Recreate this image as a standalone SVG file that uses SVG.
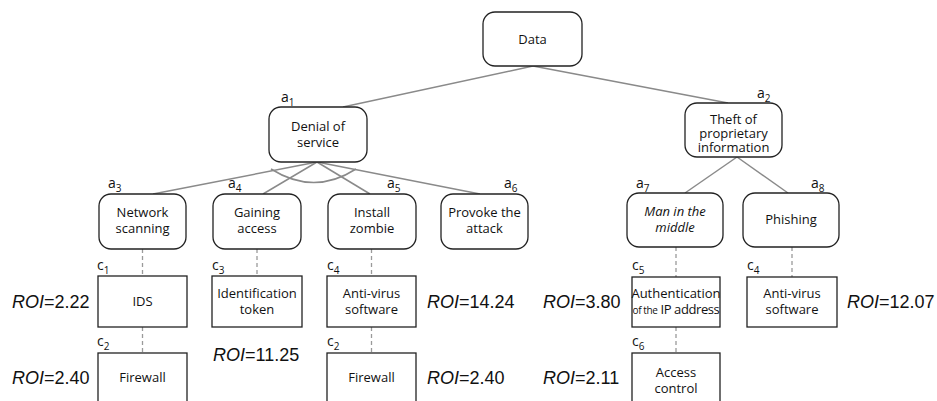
<svg xmlns="http://www.w3.org/2000/svg" width="937" height="401" viewBox="0 0 937 401">
  <style>
    .goal { fill: #fff; stroke: #222; stroke-width: 1.3; }
    .ctrl { fill: #fff; stroke: #222; stroke-width: 1.3; }
    .edge { stroke: #8a8a8a; stroke-width: 1.5; fill: none; }
    .dash { stroke: #9a9a9a; stroke-width: 1.3; stroke-dasharray: 4 3; fill: none; }
    .t { font-family: "Open Sans", "Noto Sans", sans-serif; font-size: 13px; fill: #111; text-anchor: middle; }
    .lbl { font-family: "Open Sans", "Noto Sans", sans-serif; font-size: 14px; fill: #111; }
    .sub { font-size: 10px; }
    .roi { font-family: "Liberation Sans", Arial, sans-serif; font-size: 18px; fill: #111; }
  </style>

  <!-- connectors -->
  <g id="connectors">
    <line class="edge" x1="533" y1="66" x2="343" y2="107"/>
    <line class="edge" x1="533" y1="66" x2="728" y2="103"/>
    <line class="edge" x1="317" y1="162" x2="153" y2="194"/>
    <line class="edge" x1="317" y1="162" x2="263" y2="194"/>
    <line class="edge" x1="317" y1="162" x2="370" y2="194"/>
    <line class="edge" x1="317" y1="162" x2="480" y2="194"/>
    <!-- AND arc joining the children of Denial of service -->
    <path class="edge" d="M 271 169 Q 314 196 356 169"/>
    <line class="edge" x1="737" y1="157" x2="685" y2="193"/>
    <line class="edge" x1="737" y1="157" x2="788" y2="193"/>
    <line class="dash" x1="142.5" y1="249" x2="142.5" y2="276"/>
    <line class="dash" x1="142.5" y1="327" x2="142.5" y2="353"/>
    <line class="dash" x1="257" y1="249" x2="257" y2="276"/>
    <line class="dash" x1="371.5" y1="249" x2="371.5" y2="276"/>
    <line class="dash" x1="371.5" y1="327" x2="371.5" y2="353"/>
    <line class="dash" x1="676" y1="247" x2="676" y2="277"/>
    <line class="dash" x1="676" y1="327" x2="676" y2="353"/>
    <line class="dash" x1="792" y1="247" x2="792" y2="277"/>
  </g>

  <!-- attack tree goals -->
  <g id="data">
    <rect class="goal" x="483" y="12" width="99" height="54" rx="12"/>
    <text class="t" x="532.5" y="44" font-size="13.5">Data</text>
  </g>

  <g id="a1">
    <rect class="goal" x="269" y="107" width="98" height="55" rx="12"/>
    <text class="t" x="318" y="131">Denial of</text>
    <text class="t" x="318" y="147">service</text>
    <text class="lbl" x="281" y="102">a<tspan class="sub" dy="4">1</tspan></text>
  </g>

  <g id="a2">
    <rect class="goal" x="685" y="103" width="97" height="54" rx="12"/>
    <text class="t" x="733.5" y="124" font-size="12.5">Theft of</text>
    <text class="t" x="733.5" y="138" font-size="12.5">proprietary</text>
    <text class="t" x="733.5" y="152" font-size="12.5">information</text>
    <text class="lbl" x="757" y="98">a<tspan class="sub" dy="4">2</tspan></text>
  </g>

  <g id="a3">
    <rect class="goal" x="99" y="194" width="87" height="55" rx="12"/>
    <text class="t" x="142.5" y="217">Network</text>
    <text class="t" x="142.5" y="233">scanning</text>
    <text class="lbl" x="108" y="188">a<tspan class="sub" dy="4">3</tspan></text>
  </g>

  <g id="a4">
    <rect class="goal" x="213" y="194" width="88" height="55" rx="12"/>
    <text class="t" x="257" y="217">Gaining</text>
    <text class="t" x="257" y="233">access</text>
    <text class="lbl" x="228" y="188">a<tspan class="sub" dy="4">4</tspan></text>
  </g>

  <g id="a5">
    <rect class="goal" x="328" y="194" width="88" height="55" rx="12"/>
    <text class="t" x="372" y="217">Install</text>
    <text class="t" x="372" y="233">zombie</text>
    <text class="lbl" x="387" y="188">a<tspan class="sub" dy="4">5</tspan></text>
  </g>

  <g id="a6">
    <rect class="goal" x="441" y="194" width="87" height="55" rx="12"/>
    <text class="t" x="484.5" y="217">Provoke the</text>
    <text class="t" x="484.5" y="233">attack</text>
    <text class="lbl" x="504" y="188">a<tspan class="sub" dy="4">6</tspan></text>
  </g>

  <g id="a7">
    <rect class="goal" x="627" y="193" width="96" height="54" rx="12"/>
    <text class="t" x="675" y="216" font-style="italic">Man in the</text>
    <text class="t" x="675" y="232" font-style="italic">middle</text>
    <text class="lbl" x="636" y="188">a<tspan class="sub" dy="4">7</tspan></text>
  </g>

  <g id="a8">
    <rect class="goal" x="743" y="193" width="96" height="54" rx="12"/>
    <text class="t" x="791" y="224">Phishing</text>
    <text class="lbl" x="811" y="188">a<tspan class="sub" dy="4">8</tspan></text>
  </g>

  <!-- countermeasures -->
  <g id="c1-ids">
    <rect class="ctrl" x="98" y="276" width="89" height="51"/>
    <text class="t" x="142.5" y="306">IDS</text>
    <text class="lbl" x="97" y="270">c<tspan class="sub" dy="4">1</tspan></text>
    <text class="roi" x="12" y="308"><tspan font-style="italic">ROI</tspan>=2.22</text>
  </g>

  <g id="c2-firewall-a3">
    <rect class="ctrl" x="98" y="353" width="89" height="60"/>
    <text class="t" x="142.5" y="382">Firewall</text>
    <text class="lbl" x="97" y="346">c<tspan class="sub" dy="4">2</tspan></text>
    <text class="roi" x="12" y="384"><tspan font-style="italic">ROI</tspan>=2.40</text>
  </g>

  <g id="c3-token">
    <rect class="ctrl" x="212" y="276" width="90" height="51"/>
    <text class="t" x="257" y="298">Identification</text>
    <text class="t" x="257" y="314">token</text>
    <text class="lbl" x="212" y="270">c<tspan class="sub" dy="4">3</tspan></text>
    <text class="roi" x="213" y="361"><tspan font-style="italic">ROI</tspan>=11.25</text>
  </g>

  <g id="c4-antivirus-a5">
    <rect class="ctrl" x="327" y="276" width="89" height="51"/>
    <text class="t" x="371.5" y="298">Anti-virus</text>
    <text class="t" x="371.5" y="314">software</text>
    <text class="lbl" x="327" y="270">c<tspan class="sub" dy="4">4</tspan></text>
    <text class="roi" x="427" y="308"><tspan font-style="italic">ROI</tspan>=14.24</text>
  </g>

  <g id="c2-firewall-a5">
    <rect class="ctrl" x="327" y="353" width="89" height="60"/>
    <text class="t" x="371.5" y="382">Firewall</text>
    <text class="lbl" x="327" y="346">c<tspan class="sub" dy="4">2</tspan></text>
    <text class="roi" x="427" y="384"><tspan font-style="italic">ROI</tspan>=2.40</text>
  </g>

  <g id="c5-auth">
    <rect class="ctrl" x="632" y="277" width="88" height="50"/>
    <text class="t" x="676" y="298">Authentication</text>
    <text class="t" x="676" y="314" letter-spacing="-0.4"><tspan font-size="10">of the</tspan> IP address</text>
    <text class="lbl" x="632" y="270">c<tspan class="sub" dy="4">5</tspan></text>
    <text class="roi" x="543" y="308"><tspan font-style="italic">ROI</tspan>=3.80</text>
  </g>

  <g id="c6-access">
    <rect class="ctrl" x="632" y="353" width="88" height="60"/>
    <text class="t" x="676" y="377">Access</text>
    <text class="t" x="676" y="393">control</text>
    <text class="lbl" x="632" y="346">c<tspan class="sub" dy="4">6</tspan></text>
    <text class="roi" x="543" y="384"><tspan font-style="italic">ROI</tspan>=2.11</text>
  </g>

  <g id="c4-antivirus-a8">
    <rect class="ctrl" x="747" y="277" width="90" height="50"/>
    <text class="t" x="792" y="298">Anti-virus</text>
    <text class="t" x="792" y="314">software</text>
    <text class="lbl" x="747" y="270">c<tspan class="sub" dy="4">4</tspan></text>
    <text class="roi" x="847" y="308"><tspan font-style="italic">ROI</tspan>=12.07</text>
  </g>
</svg>
